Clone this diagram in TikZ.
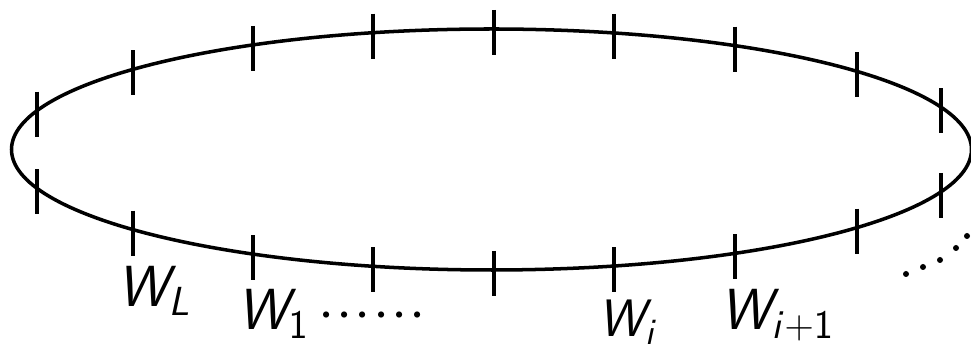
\RequirePackage{fix-cm}
\documentclass[tikz,border=0pt]{standalone}
\usepackage{amsmath,amssymb}
\usepackage{tikz}
\DeclareMathAlphabet{\mathsfit}{OT1}{cmss}{m}{it}
\newcommand{\dt}{\mathord{\cdot}\mkern0.7mu}
\newcommand{\dotrow}{\mkern3mu\dt\dt\dt\dt\dt\mathord{\cdot}}

\begin{document}
\begin{tikzpicture}[x=0.02cm, y=-0.02cm,
  tk/.style={line width=2pt},
  lab/.style={font=\fontsize{33}{36}\selectfont, inner sep=0pt, anchor=base west}]
\useasboundingbox (0,0) rectangle (971,350);
\draw[line width=2pt] (491.5,149.5) ellipse [x radius=480, y radius=120.5];
\foreach \x in {37,133,253,373,494,614,735,857,941}{
  \pgfmathsetmacro\dy{120.5*sqrt(1-((\x-491.5)/480)^2)}
  \draw[tk] (\x,149.5-\dy-19) -- (\x,149.5-\dy+26);
  \draw[tk] (\x,149.5+\dy-19) -- (\x,149.5+\dy+26);
}
\node[lab] (wl) at (117,307) {$\mathsfit{W}_{\mathsfit{L}}$};
\node[lab] (w1) at (237,330) {$\mathsfit{W}_{\mathsf{1}}\dotrow$};
\node[lab, font=\fontsize{30}{33}\selectfont] (wi) at (598,337) {$\mathsfit{W}_{\mathsfit{i}}$};
\node[lab] (wi1) at (720,330) {$\mathsfit{W}_{\mathsfit{i}+\mathsf{1}}$};
\foreach \p in {(906,274),(923,267),(940,260),(956,248),(967,236)}
  \fill \p circle (3);
\end{tikzpicture}
\end{document}
